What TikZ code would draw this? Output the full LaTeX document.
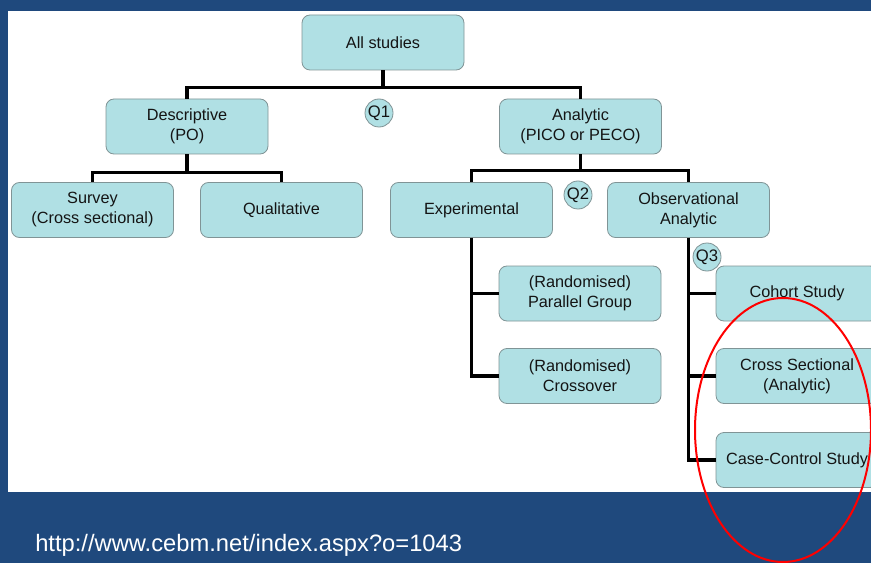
\documentclass[tikz,border=0pt]{standalone}
\usepackage{fontspec}
\setmainfont{Liberation Sans}
\usetikzlibrary{positioning, calc}
\definecolor{slideblue}{RGB}{31,73,125}
\definecolor{boxcyan}{RGB}{176,224,228}
\definecolor{boxedge}{RGB}{128,148,150}
\definecolor{textgray}{RGB}{20,20,20}
\tikzstyle{study} = [rectangle, rounded corners=6pt, minimum width=121.5pt, minimum height=41.25pt, text centered, align=center, fill=boxcyan, draw=boxedge, line width=0.6pt, text=textgray, font=\fontsize{12.2}{15}\selectfont]
\tikzstyle{qmark} = [circle, minimum size=21pt, inner sep=0pt, fill=boxcyan, draw=boxedge, line width=0.6pt, text=textgray, font=\fontsize{12.5}{14}\selectfont]
\tikzstyle{line} = [line width=2.6pt, black]

\begin{document}
\begin{tikzpicture}[x=0.75pt, y=-0.75pt]

% Slide background
\fill[slideblue] (0,0) rectangle (871,563);
\fill[white] (8,11) rectangle (871,492);
\useasboundingbox (0,0) rectangle (871,563);

% Top of the tree
\node (all) [study] at (383,42.5) {All studies};

\node (desc) [study] at (187,126.5) {Descriptive\\(PO)};
\node (ana) [study] at (580.5,126.5) {Analytic\\(PICO or PECO)};
\node (q1) [qmark] at (379,113) {Q1};

% Second level
\node (survey) [study] at (92.5,210) {Survey\\(Cross sectional)};
\node (qual) [study] at (281.5,210) {Qualitative};
\node (expt) [study] at (471.5,210) {Experimental};
\node (obs) [study] at (688.5,210) {Observational\\Analytic};
\node (q2) [qmark] at (578,195) {Q2};

% Experimental designs
\node (par) [study] at (580,293.5) {(Randomised)\\Parallel Group};
\node (cross) [study] at (580,376) {(Randomised)\\Crossover};

% Observational designs
\node (cohort) [study] at (797,293.5) {Cohort Study};
\node (csec) [study] at (797,376) {Cross Sectional\\(Analytic)};
\node (casec) [study] at (797,460) {Case-Control Study};
\node (q3) [qmark] at (707,257) {Q3};

\draw[line] (all.south) -- ++(0,17) -| (desc.north);
\draw[line] (all.south) -- ++(0,17) -| (ana.north);

\draw[line] (desc.south) -- ++(0,18) -| (survey.north);
\draw[line] (desc.south) -- ++(0,18) -| (qual.north);

\draw[line] (ana.south) -- ++(0,16) -| (expt.north);
\draw[line] (ana.south) -- ++(0,16) -| (obs.north);

\draw[line] (expt.south) |- (par.west);
\draw[line] (expt.south) |- (cross.west);

\draw[line] (obs.south) |- (cohort.west);
\draw[line] (obs.south) |- (csec.west);
\draw[line] (obs.south) |- (casec.west);

% Source and highlight
\node (url) [anchor=base west, inner sep=0pt, text=white, font=\fontsize{17.8}{20}\selectfont] at (35,551) {http://www.cebm.net/index.aspx?o=1043};

\draw[red, line width=1.5pt] (783,430) ellipse [x radius=66pt, y radius=99pt];

\end{tikzpicture}
\end{document}
